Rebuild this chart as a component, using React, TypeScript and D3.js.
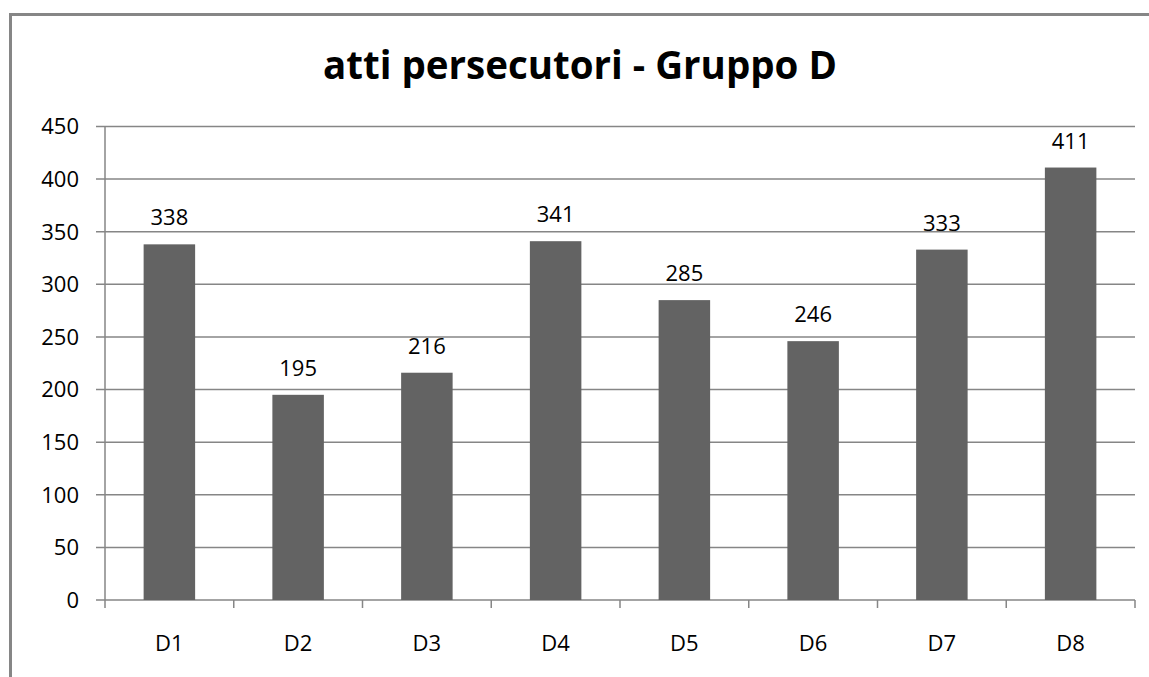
import React from 'react';
import * as d3 from 'd3';

const categories = ['D1', 'D2', 'D3', 'D4', 'D5', 'D6', 'D7', 'D8'];
const values = [338, 195, 216, 341, 285, 246, 333, 411];
const yTicks = [0, 50, 100, 150, 200, 250, 300, 350, 400, 450];
const title = 'atti persecutori - Gruppo D';

const W = 1149;
const H = 677;
const margin = { top: 126.5, right: 14, bottom: 77, left: 105 };

const App = () => {
  const innerW = W - margin.left - margin.right;
  const innerH = H - margin.top - margin.bottom;

  const x = d3.scaleBand().domain(categories).range([0, innerW]).paddingInner(0.6).paddingOuter(0.3);
  const xEdge = d3.scaleLinear().domain([0, categories.length]).range([0, innerW]);
  const y = d3.scaleLinear().domain([0, 450]).range([innerH, 0]);

  const font = "'Open Sans', 'DejaVu Sans', sans-serif";
  const grid = '#868686';

  return (
    <svg width={W} height={H} style={{ position: 'absolute', left: 0, top: 0, background: '#fff' }}>
      {/* frame */}
      <line x1={9} x2={W} y1={14.5} y2={14.5} stroke={grid} strokeWidth={3} />
      <line x1={10.5} x2={10.5} y1={13} y2={H} stroke={grid} strokeWidth={3} />

      <text x={580} y={79} textAnchor="middle" fontFamily={font} fontWeight="bold" fontSize={38.5} fill="#000">
        {title}
      </text>

      <g transform={`translate(${margin.left},${margin.top})`}>
        {yTicks.map((t) => (
          <g key={t}>
            <line x1={-9} x2={innerW} y1={y(t)} y2={y(t)} stroke={grid} strokeWidth={1.5} />
            <text x={-26} y={y(t)} dy="0.36em" textAnchor="end" fontFamily={font} fontSize={22} fill="#000">
              {t}
            </text>
          </g>
        ))}
        <line x1={0} x2={0} y1={0} y2={innerH} stroke={grid} strokeWidth={1.5} />
        {d3.range(categories.length + 1).map((i) => (
          <line key={i} x1={xEdge(i)} x2={xEdge(i)} y1={innerH} y2={innerH + 8} stroke={grid} strokeWidth={1.5} />
        ))}

        {categories.map((c, i) => (
          <g key={c}>
            <rect x={x(c)} y={y(values[i])} width={x.bandwidth()} height={innerH - y(values[i])} fill="#636363" />
            <text
              x={(x(c) as number) + x.bandwidth() / 2}
              y={y(values[i]) - 19}
              textAnchor="middle"
              fontFamily={font}
              fontSize={22}
              fill="#000"
            >
              {values[i]}
            </text>
            <text
              x={(x(c) as number) + x.bandwidth() / 2}
              y={innerH + 51}
              textAnchor="middle"
              fontFamily={font}
              fontSize={22}
              fill="#000"
            >
              {c}
            </text>
          </g>
        ))}
      </g>
    </svg>
  );
};

export default App;
